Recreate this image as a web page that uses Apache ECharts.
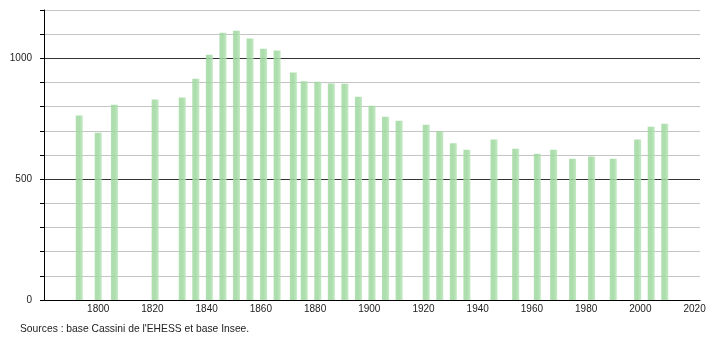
<!DOCTYPE html>
<html>
<head>
<meta charset="utf-8">
<script src="https://cdn.jsdelivr.net/npm/echarts@6/dist/echarts.min.js"></script>
<style>
html,body{margin:0;padding:0;background:#fff;}
#c{width:710px;height:340px;}
</style>
</head>
<body>
<div id="c"></div>
<script>
const years = [1793,1800,1806,1821,1831,1836,1841,1846,1851,1856,1861,1866,1872,1876,1881,1886,1891,1896,1901,1906,1911,1921,1926,1931,1936,1946,1954,1962,1968,1975,1982,1990,1999,2004,2009];
const population = [763,692,808,830,838,916,1015,1106,1114,1082,1040,1032,941,905,903,896,895,841,804,758,742,725,698,649,622,664,626,605,622,584,594,584,664,717,729];
const yTickLabels = [0, 500, 1000];
const xTickLabels = [1800,1820,1840,1860,1880,1900,1920,1940,1960,1980,2000,2020];
const sourceText = "Sources : base Cassini de l'EHESS et base Insee.";

const font = 'Liberation Sans, Arial, sans-serif';
const chart = echarts.init(document.getElementById('c'), null, {renderer: 'canvas'});
chart.setOption({
  animation: false,
  backgroundColor: '#fff',
  grid: {left: 44, right: 10, top: 10, bottom: 40, containLabel: false},
  xAxis: {
    type: 'value', min: 1780, max: 2022, interval: 20,
    axisLine: {show: true, lineStyle: {color: '#000', width: 1}},
    axisTick: {show: false},
    splitLine: {show: false},
    axisLabel: {
      show: true, margin: 4, color: '#222', fontSize: 10, fontFamily: font,
      showMaxLabel: false,
      formatter: v => xTickLabels.indexOf(v) >= 0 ? String(v) : ''
    }
  },
  yAxis: {
    type: 'value', min: 0, max: 1200, interval: 100,
    axisLine: {show: true, lineStyle: {color: '#000', width: 1}},
    axisTick: {show: true, length: 4, lineStyle: {color: '#000'}},
    splitLine: {show: true, lineStyle: {color: ['#333', '#c4c4c4', '#c4c4c4', '#c4c4c4', '#c4c4c4'], width: 1}},
    axisLabel: {
      show: true, margin: 12, color: '#222', fontSize: 10, fontFamily: font,
      formatter: v => yTickLabels.indexOf(v) >= 0 ? String(v) : ''
    }
  },
  series: [{
    type: 'bar',
    barWidth: 7,
    data: years.map((y, i) => [y, population[i]]),
    itemStyle: {
      opacity: 0.85,
      color: new echarts.graphic.LinearGradient(0, 0, 1, 0, [
        {offset: 0, color: '#a2d9a2'},
        {offset: 0.5, color: '#9dd79d'},
        {offset: 1, color: '#b9e6b9'}
      ])
    }
  }],
  graphic: [{
    type: 'text', left: 20, top: 324,
    style: {text: sourceText, fill: '#222', fontSize: 10.3, fontFamily: font}
  }]
});
</script>
</body>
</html>
